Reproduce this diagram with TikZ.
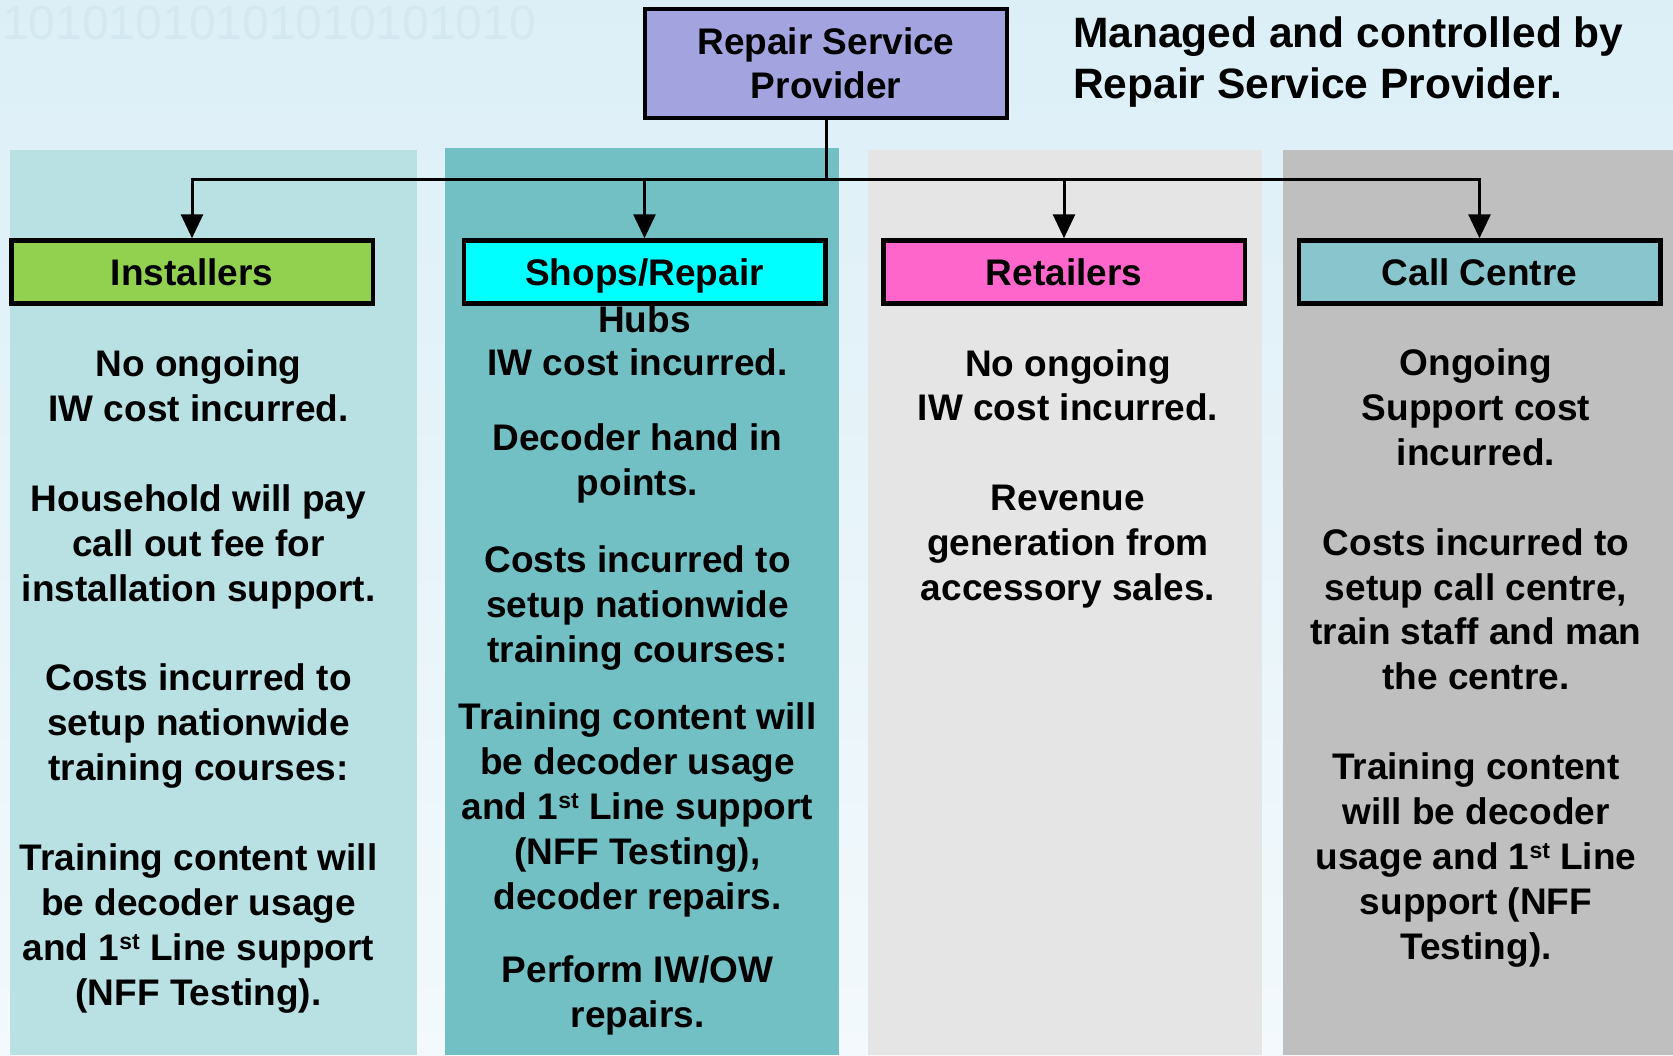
\documentclass[tikz,border=0pt]{standalone}
\usepackage{fontspec}
\setmainfont{Liberation Sans}
\usetikzlibrary{arrows.meta,calc}
\definecolor{bgtop}{HTML}{DCEFF7}
\definecolor{bgbot}{HTML}{F3F9FC}
\definecolor{digitc}{HTML}{D3E8F0}
\definecolor{rspc}{HTML}{A3A3E0}
\definecolor{instc}{HTML}{92D050}
\definecolor{shopc}{HTML}{00FFFF}
\definecolor{retc}{HTML}{FF66CC}
\definecolor{callc}{HTML}{89C5CC}
\definecolor{colA}{HTML}{B9E0E3}
\definecolor{colB}{HTML}{72BFC4}
\definecolor{colC}{HTML}{E5E5E5}
\definecolor{colD}{HTML}{BFBFBF}
\newcommand{\ordst}{\raisebox{11pt}{\fontsize{23}{23}\selectfont st}}
\newcommand{\bodyfont}{\fontsize{37}{44.9}\selectfont\bfseries}
\begin{document}
\begin{tikzpicture}[x=1pt,y=-1pt,
  hdr/.style={draw=black,line width=4.5pt,minimum width=361.5pt,minimum height=63pt,
    inner sep=0pt,text height=26.5pt,text depth=0pt,font=\bodyfont},
  body/.style={align=center,inner sep=0pt,anchor=north,font=\bodyfont},
  conn/.style={draw=black,line width=3pt,line join=miter},
  arr/.style={conn,-{Triangle[length=24pt,width=22pt]}},
]
\useasboundingbox (0,0) rectangle (1673,1055);
\shade[top color=bgtop,bottom color=bgbot] (0,0) rectangle (1673,1055);
\node[anchor=north west,inner sep=0pt,text=digitc,font=\fontsize{48}{48}\selectfont] (digits) at (2,6) {10101010101010101010};

% columns
\fill[colA] (10,150) rectangle (417,1055);
\fill[colB] (445,148) rectangle (839,1055);
\fill[colC] (868,150) rectangle (1262,1055);
\fill[colD] (1283,150) rectangle (1673,1055);

% top node and note
\node[draw=black,line width=4pt,fill=rspc,minimum width=362pt,minimum height=109pt,
  inner sep=0pt,align=center,font=\fontsize{37}{44}\selectfont\bfseries] (rsp) at (826,63.5)
  {Repair Service\\Provider};
\node[anchor=north west,inner sep=0pt,align=left,font=\fontsize{42.5}{51}\selectfont\bfseries] (note)
  at (1073,17) {Managed and controlled by\\Repair Service Provider.};

% headers
\node[hdr,fill=instc] (inst) at (192,272) {Installers};
\node[hdr,fill=shopc,label={[name=hubs,inner sep=0pt,font=\bodyfont]below:Hubs}] (shops) at (644.5,272) {Shops/Repair};
\node[hdr,fill=retc] (ret) at (1064,272) {Retailers};
\node[hdr,fill=callc] (call) at (1479.5,272) {Call Centre};

% connectors
\coordinate (bus) at (826,179);
\draw[conn] (rsp.south) -- (bus);
\draw[arr] (bus) -| (inst.north);
\draw[arr] (bus) -| (shops.north);
\draw[arr] (bus) -| (ret.north);
\draw[arr] (bus) -| (call.north);

% body texts
\node[body] (t1) at (198.5,349.5) {No ongoing\\IW cost incurred.\\[44.9pt]Household will pay\\call out fee for\\installation support.\\[44.9pt]Costs incurred to\\setup nationwide\\training courses:\\[44.9pt]Training content will\\be decoder usage\\and 1\ordst{} Line support\\(NFF Testing).};
\node[body] (t2) at (637.5,348) {IW cost incurred.\\[31pt]Decoder hand in\\points.\\[32pt]Costs incurred to\\setup nationwide\\training courses:\\[22pt]Training content will\\be decoder usage\\and 1\ordst{} Line support\\(NFF Testing),\\decoder repairs.\\[29pt]Perform IW/OW\\repairs.};
\node[body] (t3) at (1068,349) {No ongoing\\IW cost incurred.\\[44.9pt]Revenue\\generation from\\accessory sales.};
\node[body] (t4) at (1476,348.5) {Ongoing\\Support cost\\incurred.\\[44.9pt]Costs incurred to\\setup call centre,\\train staff and man\\the centre.\\[44.9pt]Training content\\will be decoder\\usage and 1\ordst{} Line\\support (NFF\\Testing).};
\end{tikzpicture}
\end{document}
